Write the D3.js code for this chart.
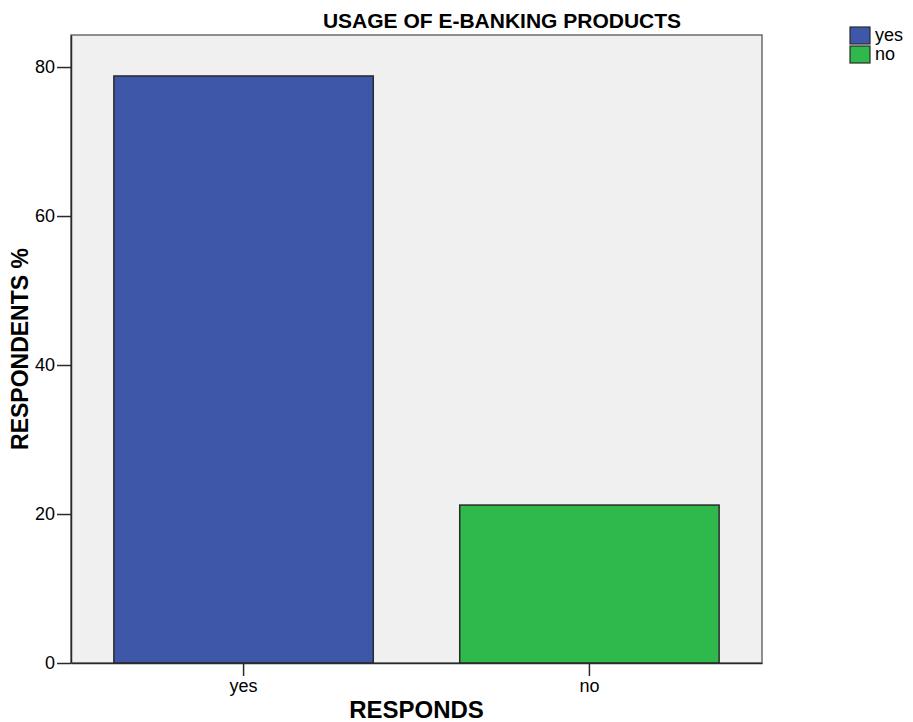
<!DOCTYPE html>
<html>
<head>
<meta charset="utf-8">
<script src="https://cdn.jsdelivr.net/npm/d3@7"></script>
<style>
  body { margin: 0; background: #fff; }
  text { font-family: "Liberation Sans", Arial, sans-serif; fill: #000; }
</style>
</head>
<body>
<svg id="chart" width="913" height="722"></svg>
<script>
// data
var categories = ["yes", "no"];
var percents = [78.8, 21.2];
var barColors = ["#3e57a8", "#2fb84b"];
var yTicks = [0, 20, 40, 60, 80];

var margin = {top: 35, left: 71, right: 151, bottom: 59},
    width = 913 - margin.left - margin.right,
    height = 722 - margin.top - margin.bottom;

var svg = d3.select("#chart"),
    g = svg.append("g").attr("transform", "translate(" + margin.left + "," + margin.top + ")");

var x = d3.scaleBand()
    .domain(categories)
    .range([0, width])
    .paddingInner(0.25)
    .paddingOuter(0.124);

var y = d3.scaleLinear()
    .domain([0, 84.3])
    .range([height, 0]);

var color = d3.scaleOrdinal().domain(categories).range(barColors);

// plot background
g.append("rect")
  .attr("width", width)
  .attr("height", height)
  .attr("fill", "#f0f0f0")
  .attr("stroke", "#6b6b6b")
  .attr("stroke-width", 1.5);

// bars
g.selectAll(".bar")
  .data(categories)
  .enter().append("rect")
  .attr("class", "bar")
  .attr("x", function(d) { return x(d); })
  .attr("width", x.bandwidth())
  .attr("y", function(d, i) { return y(percents[i]); })
  .attr("height", function(d, i) { return height - y(percents[i]); })
  .attr("fill", function(d) { return color(d); })
  .attr("stroke", "#2a2a2a")
  .attr("stroke-width", 1.5);

// axes
var yAxis = g.append("g")
  .call(d3.axisLeft(y).tickValues(yTicks).tickSize(14).tickPadding(2).tickSizeOuter(0));
var xAxis = g.append("g")
  .attr("transform", "translate(0," + height + ")")
  .call(d3.axisBottom(x).tickSize(13).tickPadding(3).tickSizeOuter(0));

[yAxis, xAxis].forEach(function(a) {
  a.selectAll("path, line").attr("stroke", "#2a2a2a").attr("stroke-width", 1.5);
  a.selectAll("text").style("font-family", "Liberation Sans, Arial, sans-serif")
    .style("font-size", "18px").attr("fill", "#111");
});

// titles
svg.append("text")
  .attr("x", 502)
  .attr("y", 28)
  .attr("text-anchor", "middle")
  .style("font-weight", "bold")
  .style("font-size", "21px")
  .text("USAGE OF E-BANKING PRODUCTS");

svg.append("text")
  .attr("x", margin.left + width / 2)
  .attr("y", 718)
  .attr("text-anchor", "middle")
  .style("font-weight", "bold")
  .style("font-size", "24px")
  .text("RESPONDS");

svg.append("text")
  .attr("transform", "translate(28," + (margin.top + height / 2) + ") rotate(-90)")
  .attr("text-anchor", "middle")
  .style("font-weight", "bold")
  .style("font-size", "23px")
  .text("RESPONDENTS %");

// legend
var legend = svg.append("g").attr("transform", "translate(850,27)");
var item = legend.selectAll(".item")
  .data(categories)
  .enter().append("g")
  .attr("class", "item")
  .attr("transform", function(d, i) { return "translate(0," + i * 19 + ")"; });

item.append("rect")
  .attr("width", 20)
  .attr("height", 17)
  .attr("fill", function(d) { return color(d); })
  .attr("stroke", "#2a2a2a")
  .attr("stroke-width", 1.2);

item.append("text")
  .attr("x", 25)
  .attr("y", 14)
  .style("font-size", "18px")
  .text(function(d) { return d; });
</script>
</body>
</html>
